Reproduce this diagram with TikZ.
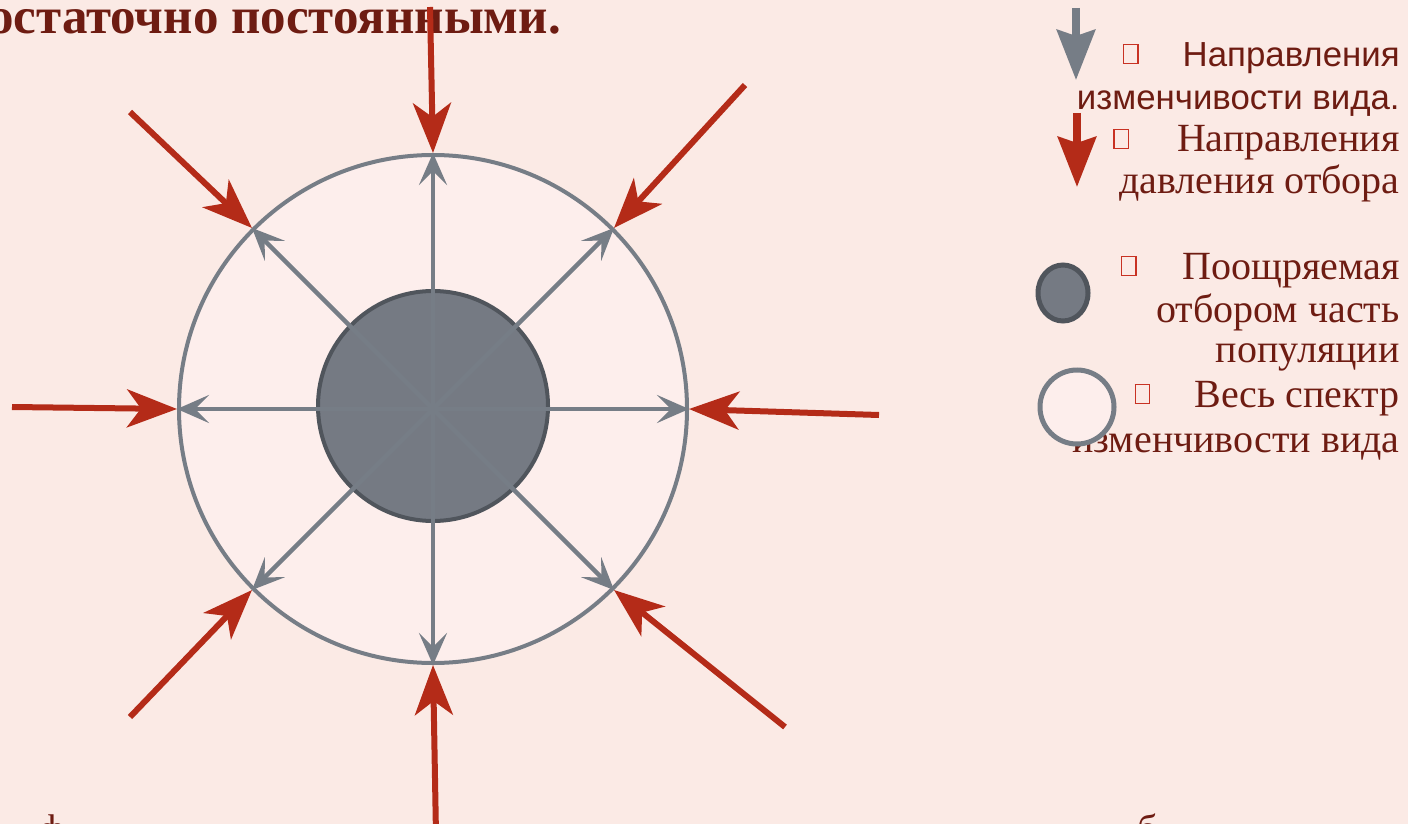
\documentclass[tikz,border=0pt]{standalone}
\usepackage{fontspec}
\setmainfont{Liberation Serif}
\newfontfamily\legendsans{Liberation Sans}
\usepackage{xcolor}
\usepackage{tikz}
\usetikzlibrary{arrows.meta,shapes.geometric}

\definecolor{paper}{RGB}{251,234,229}
\definecolor{ringfill}{RGB}{253,238,236}
\definecolor{ringgray}{RGB}{118,125,134}
\definecolor{coregray}{RGB}{117,122,131}
\definecolor{coreedge}{RGB}{80,85,92}
\definecolor{pressred}{RGB}{180,43,24}
\definecolor{textred}{RGB}{110,28,18}
\definecolor{tofured}{RGB}{200,50,35}

\newcommand{\tofubox}{{\color{tofured}\setlength{\fboxsep}{0pt}\setlength{\fboxrule}{0.7pt}\raisebox{2pt}{\fbox{\rule{0pt}{9pt}\hspace{6.5pt}}}}}

\begin{document}
\begin{tikzpicture}[
  x=0.5pt, y=-0.5pt,
  ring/.style={circle, draw=ringgray, line width=2pt, fill=ringfill, minimum size=254pt, inner sep=0pt},
  core/.style={circle, draw=coreedge, line width=2pt, fill=coregray, minimum size=115pt, inner sep=0pt},
  variation/.style={draw=ringgray, line width=2.2pt, -{Stealth[length=16pt, width=14pt, inset=7pt]}},
  pressure/.style={draw=pressred, line width=3pt, -{Stealth[length=25pt, width=19pt, inset=7pt]}},
  keyarrow/.style={line width=4pt, -{Stealth[length=25pt, width=19pt, inset=3pt]}},
  title/.style={font=\bfseries\fontsize{25.5}{28}\selectfont, text=textred, inner sep=0pt},
  sanskey/.style={font=\legendsans\fontsize{17.4}{21}\selectfont, text=textred, inner sep=0pt, anchor=base east},
  serifkey/.style={font=\fontsize{20}{22}\selectfont, text=textred, inner sep=0pt, anchor=base east}
]
  \fill[paper] (0,0) rectangle (1408,824);
  \useasboundingbox (0,0) rectangle (1408,824);

  \node[title, anchor=base west] (head) at (-12,34) {остаточно постоянными.};
  \node[serifkey, anchor=base] (cutf) at (52,842) {ф};
  \node[serifkey, anchor=base] (cutb) at (1148,842) {б};

  % Species range and the part kept by selection
  \node[ring] (outer) at (433,409) {};
  \node[core] (inner) at (433,406) {};
  \coordinate (c) at (433,409);

  % Directions of variation
  \foreach \ang in {0,45,...,315}
    \draw[variation] (c) -- (outer.\ang);

  % Directions of selection pressure
  \foreach \ang/\tx/\ty in {90/430/7, 45/745/85, 0/879/415, 315/785/727,
                            270/436/835, 225/130/717, 180/12/407, 135/130/112}{
    \coordinate (p\ang) at (\tx,\ty);
    \draw[pressure] (p\ang) -- (outer.\ang);
  }

  % Legend
  \coordinate (ka1) at (1076,8);
  \coordinate (ka2) at (1076,80);
  \coordinate (kb1) at (1077,113);
  \coordinate (kb2) at (1077,187);
  \draw[keyarrow, ringgray] (ka1) -- (ka2);
  \draw[keyarrow, pressred] (kb1) -- (kb2);

  \node[sanskey] (l1) at (1400,67) {\tofubox\hspace{22pt}Направления};
  \node[sanskey] (l2) at (1400,110) {изменчивости вида.};
  \node[serifkey] (l3) at (1400,152) {\tofubox\hspace{24pt}Направления};
  \node[serifkey] (l4) at (1400,193) {давления отбора};
  \node[serifkey] (l5) at (1400,279) {\tofubox\hspace{23pt}Поощряемая};
  \node[serifkey] (l6) at (1400,322) {отбором часть};
  \node[serifkey] (l7) at (1400,362) {популяции};
  \node[serifkey] (l8) at (1400,407) {\tofubox\hspace{22pt}Весь спектр};
  \node[serifkey] (l9) at (1400,452) {изменчивости вида};

  \node[ellipse, draw=coreedge, line width=2.5pt, fill=coregray,
        minimum width=25pt, minimum height=28pt, inner sep=0pt] (keycore) at (1063,293) {};
  \node[circle, draw=ringgray, line width=2.5pt, fill=ringfill,
        minimum size=37pt, inner sep=0pt] (keyring) at (1077,407) {};
\end{tikzpicture}
\end{document}
